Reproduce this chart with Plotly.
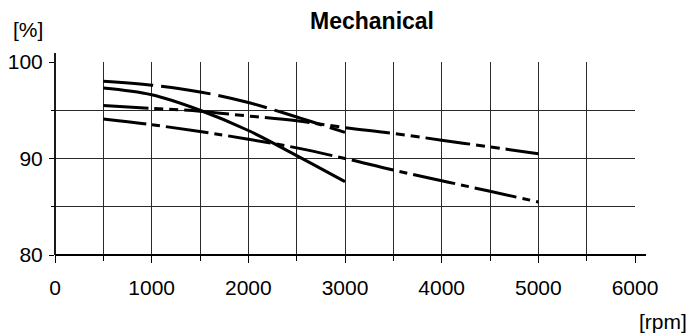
import plotly.graph_objects as go

# ---- data ----
rpm_a = [500, 1000, 1500, 2000, 2500, 3000]
eff_top = [98.0, 97.6, 96.9, 95.8, 94.3, 92.7]
eff_solid = [97.3, 96.6, 95.0, 92.9, 90.3, 87.6]

rpm_b = [500, 1000, 1500, 2000, 2500, 3000, 3500, 4000, 4500, 5000]
eff_dashdotdot = [95.5, 95.2, 94.9, 94.4, 93.9, 93.2, 92.6, 91.9, 91.2, 90.5]
eff_dashdot = [94.1, 93.5, 92.8, 92.0, 91.1, 90.0, 88.8, 87.7, 86.6, 85.5]

x_tickvals = [0, 1000, 2000, 3000, 4000, 5000, 6000]
x_ticktext = ["0", "1000", "2000", "3000", "4000", "5000", "6000"]
y_tickvals = [80, 90, 100]
y_ticktext = ["80", "90", "100"]

title_text = "Mechanical"
y_unit = "[%]"
x_unit = "[rpm]"

FONT = "Liberation Sans, Arial, Helvetica, sans-serif"
LW = 3

fig = go.Figure()
fig.add_trace(go.Scatter(x=rpm_a, y=eff_top, mode="lines", line=dict(color="black", width=LW, dash="50px,8px", shape="spline")))
fig.add_trace(go.Scatter(x=rpm_a, y=eff_solid, mode="lines", line=dict(color="black", width=LW, shape="spline")))
fig.add_trace(go.Scatter(x=rpm_b, y=eff_dashdotdot, mode="lines", line=dict(color="black", width=LW, dash="45px,6px,9px,6px,9px,6px", shape="spline")))
fig.add_trace(go.Scatter(x=rpm_b, y=eff_dashdot, mode="lines", line=dict(color="black", width=LW, dash="43px,6px,8px,6px", shape="spline")))

grid_col = "#2a2a2a"
fig.update_xaxes(
    range=[0, 6000], tickvals=x_tickvals, ticktext=x_ticktext,
    showgrid=True, gridcolor=grid_col, gridwidth=1,
    ticks="outside", ticklen=7, tickwidth=1, tickcolor="black",
    minor=dict(dtick=500, tick0=0, showgrid=True, gridcolor=grid_col, gridwidth=1, ticks="outside", ticklen=5, tickcolor="black"),
    zeroline=False, showline=False, automargin=False,
    tickfont=dict(family=FONT, size=21, color="black"),
    ticklabelstandoff=7,
)
fig.update_yaxes(
    range=[80, 100], tickvals=y_tickvals, ticktext=y_ticktext,
    showgrid=True, gridcolor=grid_col, gridwidth=1,
    ticks="outside", ticklen=5, tickwidth=1, tickcolor="black",
    minor=dict(dtick=5, tick0=80, showgrid=True, gridcolor=grid_col, gridwidth=1, ticks="outside", ticklen=3, tickcolor="black"),
    zeroline=False, showline=False, automargin=False,
    tickfont=dict(family=FONT, size=21, color="black"),
    ticklabelstandoff=2,
)

# axis lines extending slightly past the grid
fig.add_shape(type="line", xref="paper", yref="paper", x0=0, x1=1.019, y0=0, y1=0, line=dict(color="black", width=1.8), layer="above")
fig.add_shape(type="line", xref="paper", yref="paper", x0=0, x1=0, y0=0, y1=1.047, line=dict(color="black", width=1.8), layer="above")

fig.add_annotation(text="<b>%s</b>" % title_text, xref="paper", yref="paper", x=0.5457, y=1.21,
                   xanchor="center", yanchor="middle", showarrow=False, font=dict(family=FONT, size=23, color="black"))
fig.add_annotation(text=y_unit, xref="paper", yref="paper", x=-0.0474, y=1.166,
                   xanchor="center", yanchor="middle", showarrow=False, font=dict(family=FONT, size=21, color="black"))
fig.add_annotation(text=x_unit, xref="paper", yref="paper", x=1.0931, y=-0.347,
                   xanchor="right", yanchor="middle", showarrow=False, font=dict(family=FONT, size=21, color="black"))
# fragments of the neighbouring chart cut by the left edge
fig.add_annotation(text=x_unit, xref="paper", yref="paper", x=-0.0793, y=-0.337,
                   xanchor="right", yanchor="middle", showarrow=False, font=dict(family=FONT, size=21, color="black"))
fig.add_annotation(text="0", xref="paper", yref="paper", x=-0.0897, y=-0.11,
                   xanchor="right", yanchor="middle", showarrow=False, font=dict(family=FONT, size=21, color="black"))

# the page body has an 8px margin, so margins are reduced by 8 on the top/left
fig.update_layout(
    width=694, height=334,
    margin=dict(l=47, r=67, t=54, b=87),
    paper_bgcolor="white", plot_bgcolor="white",
    showlegend=False,
)
fig.write_html("out.html")
